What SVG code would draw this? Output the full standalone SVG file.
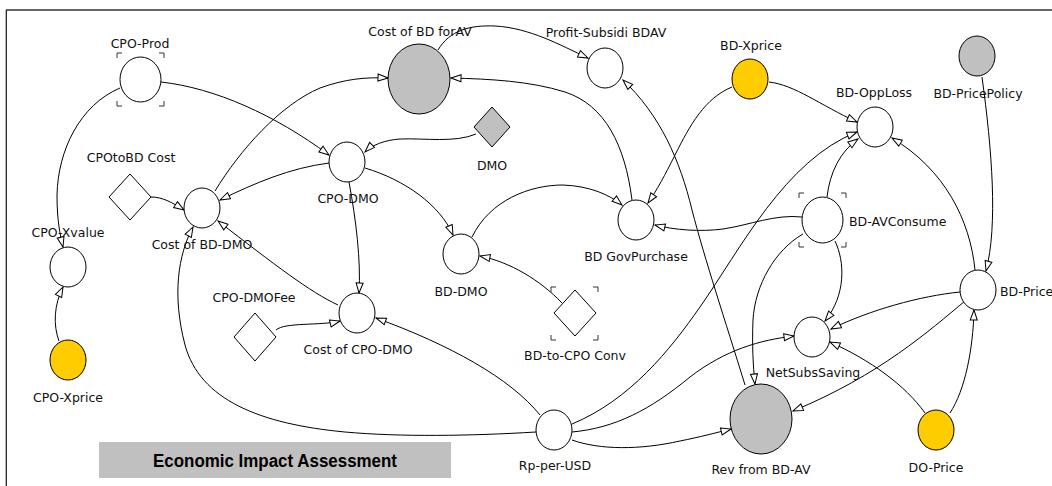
<svg xmlns="http://www.w3.org/2000/svg" width="1052" height="486" viewBox="0 0 1052 486">
<style>
.n{fill:#fff;stroke:#000;stroke-width:1}
.g{fill:#c0c0c0;stroke:#000;stroke-width:1}
.y{fill:#ffcc00;stroke:#000;stroke-width:1}
.br{fill:none;stroke:#333;stroke-width:1}
.t{font-family:"DejaVu Sans",Verdana,sans-serif;font-size:12.5px;fill:#111;text-anchor:middle}
.ts{text-anchor:start}
.c path{fill:none;stroke:#000;stroke-width:1;marker-end:url(#arr)}
</style>
<defs>
<marker id="arr" markerWidth="12" markerHeight="9" refX="11" refY="4.5" orient="auto" markerUnits="userSpaceOnUse" viewBox="0 0 12 9">
<path d="M1,1 L11,4.5 L1,8 z" fill="#fff" stroke="#000" stroke-width="1"/>
</marker>
</defs>
<rect x="0" y="0" width="1052" height="486" fill="#fff"/>
<line x1="6" y1="10" x2="1052" y2="10" stroke="#666" stroke-width="2"/>
<line x1="6.3" y1="10" x2="6.3" y2="486" stroke="#222" stroke-width="1.3"/>

<g id="connectors" class="c">
<path d="M161,82 C215,88 275,115 329,155"/>
<path d="M120,88 C80,105 58,150 57,195 C57,220 60,235 63,247"/>
<path d="M59,341 C53,325 54,305 63,287"/>
<path d="M151,197 C163,197 173,203 184,210"/>
<path d="M329,163 C290,168 255,183 220,200"/>
<path d="M215,191 C240,150 280,105 320,88 C345,79 365,77 388,78"/>
<path d="M476,134 C455,143 425,138 400,139 C385,140 372,145 365,152"/>
<path d="M365,168 C405,180 440,205 453,235"/>
<path d="M349,182 C356,220 361,260 359,293"/>
<path d="M338,305 C310,292 275,265 218,221"/>
<path d="M276,330 C285,322 320,326 340,321"/>
<path d="M536,432 C470,436 400,437 345,432 C260,424 200,400 185,345 C172,295 178,255 193,227"/>
<path d="M540,415 C510,378 450,345 376,318"/>
<path d="M572,424 C630,400 670,350 700,307 C740,250 785,160 857,132"/>
<path d="M769,82 C795,85 820,105 857,122"/>
<path d="M732,87 C705,98 690,125 675,155 C665,175 657,190 648,203"/>
<path d="M632,200 C625,145 605,105 565,92 C530,81 490,79 451,78"/>
<path d="M438,50 C450,30 470,25 495,26 C530,28 560,45 588,58"/>
<path d="M745,385 C725,320 705,260 692,210 C680,160 660,115 623,80"/>
<path d="M802,217 C775,214 750,225 723,229 C700,232 675,230 655,225"/>
<path d="M472,237 C490,200 530,185 563,185 C590,186 610,195 622,205"/>
<path d="M562,303 C540,280 510,262 480,256"/>
<path d="M827,197 C830,172 840,152 858,139"/>
<path d="M803,234 C775,250 755,285 753,320 C752,345 753,365 755,384"/>
<path d="M835,241 C845,262 846,295 825,321"/>
<path d="M982,77 C992,150 998,225 986,271"/>
<path d="M975,270 C970,220 945,170 892,138"/>
<path d="M960,292 C920,296 870,310 831,329"/>
<path d="M965,301 C930,330 880,375 793,411"/>
<path d="M950,413 C965,390 973,350 974,310"/>
<path d="M925,413 C905,385 870,360 830,342"/>
<path d="M572,432 C615,428 650,410 690,377 C725,350 760,340 794,336"/>
<path d="M572,440 C600,450 640,450 680,441 C700,437 715,433 731,429"/>
</g>

<g id="cpo-prod">
<ellipse class="n" cx="140.5" cy="79.5" rx="20.5" ry="22.5"/>
<path class="br" d="M117,58 V53 H122 M159,53 H164 V58 M164,101 V106 H159 M122,106 H117 V101"/>
<text class="t" x="140" y="48">CPO-Prod</text>
</g>
<g id="cpotobd-cost">
<polygon class="n" points="130,174 151,197 130,220 109,197"/>
<text class="t" x="131" y="162">CPOtoBD Cost</text>
</g>
<g id="cost-of-bd-dmo">
<ellipse class="n" cx="202" cy="208" rx="18" ry="20"/>
<text class="t" x="202" y="249">Cost of BD-DMO</text>
</g>
<g id="cpo-dmo">
<ellipse class="n" cx="347" cy="162" rx="18" ry="20"/>
<text class="t" x="348" y="203">CPO-DMO</text>
</g>
<g id="cost-of-bd-forav">
<ellipse class="g" cx="419" cy="79" rx="31" ry="35"/>
<text class="t" x="420" y="36">Cost of BD forAV</text>
</g>
<g id="profit-subsidi-bdav">
<ellipse class="n" cx="605" cy="68" rx="18" ry="20"/>
<text class="t" x="606" y="37">Profit-Subsidi BDAV</text>
</g>
<g id="dmo">
<polygon class="g" points="492,107 510,127 492,147 474,127"/>
<text class="t" x="492" y="170">DMO</text>
</g>
<g id="bd-xprice">
<ellipse class="y" cx="750" cy="79" rx="18" ry="20"/>
<text class="t" x="751" y="50">BD-Xprice</text>
</g>
<g id="bd-pricepolicy">
<ellipse class="g" cx="977" cy="56" rx="18" ry="20"/>
<text class="t" x="978" y="98">BD-PricePolicy</text>
</g>
<g id="bd-opploss">
<ellipse class="n" cx="875" cy="127" rx="18" ry="20"/>
<text class="t" x="874" y="97">BD-OppLoss</text>
</g>
<g id="bd-avconsume">
<ellipse class="n" cx="822.5" cy="220" rx="20.5" ry="23"/>
<path class="br" d="M799,198 V193 H804 M841,193 H846 V198 M846,242 V247 H841 M804,247 H799 V242"/>
<text class="t ts" x="849" y="226">BD-AVConsume</text>
</g>
<g id="bd-govpurchase">
<ellipse class="n" cx="636" cy="220" rx="18" ry="20"/>
<text class="t" x="636" y="261">BD GovPurchase</text>
</g>
<g id="bd-dmo">
<ellipse class="n" cx="461" cy="254" rx="18" ry="20"/>
<text class="t" x="461" y="296">BD-DMO</text>
</g>
<g id="bd-to-cpo-conv">
<polygon class="n" points="575,290 596,313 575,336 554,313"/>
<path class="br" d="M551,292 V287 H556 M593,287 H598 V292 M598,335 V340 H593 M556,340 H551 V335"/>
<text class="t" x="575" y="360">BD-to-CPO Conv</text>
</g>
<g id="cpo-xvalue">
<ellipse class="n" cx="68" cy="267" rx="18" ry="20"/>
<text class="t" x="68" y="237">CPO-Xvalue</text>
</g>
<g id="cpo-xprice">
<ellipse class="y" cx="68" cy="360" rx="18" ry="20"/>
<text class="t" x="68" y="402">CPO-Xprice</text>
</g>
<g id="cpo-dmofee">
<polygon class="n" points="255,313 276,337 255,361 234,337"/>
<text class="t" x="254" y="302">CPO-DMOFee</text>
</g>
<g id="cost-of-cpo-dmo">
<ellipse class="n" cx="357" cy="313" rx="18" ry="20"/>
<text class="t" x="358" y="354">Cost of CPO-DMO</text>
</g>
<g id="rp-per-usd">
<ellipse class="n" cx="554" cy="430" rx="18" ry="20"/>
<text class="t" x="555" y="470">Rp-per-USD</text>
</g>
<g id="netsubssaving">
<ellipse class="n" cx="812" cy="337" rx="18" ry="20"/>
<text class="t" x="813" y="377">NetSubsSaving</text>
</g>
<g id="rev-from-bd-av">
<ellipse class="g" cx="761" cy="419" rx="31" ry="35"/>
<text class="t" x="761" y="474">Rev from BD-AV</text>
</g>
<g id="do-price">
<ellipse class="y" cx="936" cy="430" rx="18" ry="20"/>
<text class="t" x="936" y="472">DO-Price</text>
</g>
<g id="bd-price">
<ellipse class="n" cx="978" cy="290" rx="18" ry="20"/>
<text class="t ts" x="1000" y="296">BD-Price</text>
</g>
<g id="title">
<rect x="99" y="442" width="352" height="36" fill="#c0c0c0"/>
<text x="275" y="467" font-family="'Liberation Sans',Arial,sans-serif" font-weight="bold" font-size="17.5" text-anchor="middle" textLength="244" lengthAdjust="spacingAndGlyphs" fill="#000">Economic Impact Assessment</text>
</g>
</svg>
